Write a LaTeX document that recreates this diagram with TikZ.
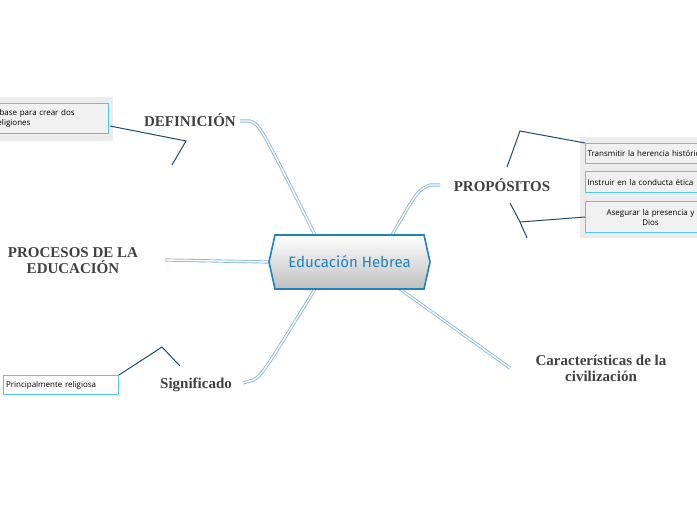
\documentclass[tikz,border=0pt]{standalone}
\usepackage{fontspec}
\setmainfont{Liberation Serif}
\newfontfamily\boxf{Open Sans}
\newfontfamily\ctrf{Fira Sans}
\definecolor{cblue}{RGB}{30,130,195}
\definecolor{lcyan}{RGB}{80,200,240}
\definecolor{brl}{RGB}{140,185,225}
\definecolor{dk}{RGB}{30,75,110}
\begin{document}
\begin{tikzpicture}[x=1pt,y=-1pt,
  topic/.style={font=\fontsize{15}{16}\selectfont\bfseries, text=black!75, align=center},
  leaf/.style={draw=lcyan, line width=1pt, fill=gray!12, font=\boxf\fontsize{8}{10}\selectfont, inner sep=2pt, anchor=north west},
  branch/.style={draw=brl, double=white, double distance=1.4pt, line width=0.9pt},
  dark/.style={draw=dk, line width=1pt}]
\clip (0,0) rectangle (697,520);
\useasboundingbox (0,0) rectangle (697,520);
% branches
\coordinate (c1) at (315,235); \coordinate (c2) at (392,235);
\coordinate (c3) at (269,262); \coordinate (c4) at (315,289); \coordinate (c5) at (400,289);
\coordinate (d) at (240,121); \coordinate (p) at (440,185); \coordinate (pe) at (165,260);
\coordinate (s) at (243,383); \coordinate (ca) at (510,368);
\draw[branch] (d) -- (250,121) .. controls (260,125) .. (c1);
\draw[branch] (p) -- (430,185) .. controls (418,190) .. (c2);
\draw[branch] (pe) -- (c3);
\draw[branch] (s) -- (253,380) .. controls (262,375) .. (c4);
\draw[branch] (ca) -- (c5);
% center
\shade[top color=white,bottom color=gray!50,draw=cblue,line width=1.6pt]
 (269,262)--(275,235)--(424,235)--(430,262)--(424,289)--(275,289)--cycle;
\node[font=\ctrf\fontsize{15}{16}\selectfont, text=cblue] (ctr) at (349.5,262) {Educación Hebrea};
% topics
\node[topic] (def) at (190,120) {DEFINICIÓN};
\node[topic] (pro) at (502,185) {PROPÓSITOS};
\node[topic] (proc) at (73,261) {PROCESOS DE LA\\EDUCACIÓN};
\node[topic] (sig) at (196,385) {Significado};
\node[topic] (car) at (601,368) {Características de la\\civilización};
% left top leaf
\fill[gray!15] (0,97) rectangle (113,141);
\node[leaf, minimum width=113pt, minimum height=30pt, text width=109pt, align=left] (l1) at (-5,103) {\hspace*{2pt}base para crear dos\\eligiones};
\coordinate (j1) at (186,141); \coordinate (j1e) at (172,165);
\draw[dark] (110,126) -- (j1) -- (j1e);
% right leaves
\fill[gray!15] (580,137) rectangle (697,238);
\node[leaf, minimum width=130pt, minimum height=20pt, text width=126pt, align=left] (r1) at (585,143) {Transmitir la herencia histórica};
\node[leaf, minimum width=130pt, minimum height=21pt, text width=126pt, align=left] (r2) at (585,171) {Instruir en la conducta ética};
\node[leaf, minimum width=130pt, minimum height=31pt, text width=126pt, align=center] (r3) at (585,201) {Asegurar la presencia y\\Dios};
\coordinate (j2) at (520,131); \coordinate (j3) at (520,222);
\draw[dark] (507,167) -- (j2) -- (r1.north west);
\draw[dark] (510,203) -- (j3) -- (527,238);
\draw[dark] (j3) -- (r3.west);
% significado leaf
\node[leaf, fill=white, minimum width=115pt, minimum height=19pt, text width=110pt, align=left] (l2) at (3,375) {Principalmente religiosa};
\coordinate (j4) at (162,347);
\draw[dark] (l2.north east) -- (j4) -- (180,366);
\end{tikzpicture}
\end{document}
